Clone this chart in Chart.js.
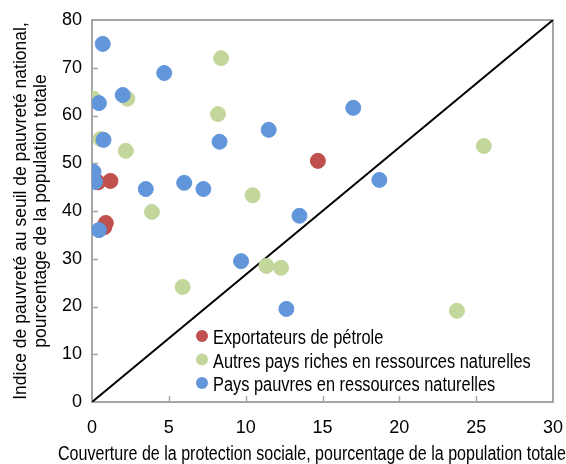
<!DOCTYPE html>
<html>
<head>
<meta charset="utf-8">
<script src="https://cdn.jsdelivr.net/npm/chart.js@4"></script>
<style>
  html, body { margin: 0; padding: 0; background: #fff; }
  #wrap { width: 566px; height: 464px; }
</style>
</head>
<body>
<div id="wrap"><canvas id="chart" width="566" height="464"></canvas></div>
<script>
// Exportateurs de pétrole
const oilX = [14.7, 1.2, 0.4, 0.9, 0.8];
const oilY = [50.5, 46.3, 46.0, 37.5, 36.6];

// Autres pays riches en ressources naturelles
const richX = [8.4, 0.1, 2.3, 8.2, 0.55, 2.2, 3.9, 10.45, 5.9, 11.35, 12.3, 25.5, 23.75];
const richY = [72.0, 63.5, 63.5, 60.3, 55.1, 52.6, 39.8, 43.3, 24.1, 28.5, 28.1, 53.6, 19.1];

// Pays pauvres en ressources naturelles
const poorX = [0.7, 4.7, 2.0, 0.45, 0.75, 8.3, 11.5, 17.0, 18.7, 0.1, 0.2, 3.5, 6.0, 7.25, 0.45, 13.5, 9.7, 12.65];
const poorY = [75.0, 68.9, 64.3, 62.6, 54.9, 54.5, 57.0, 61.6, 46.5, 48.2, 46.1, 44.6, 45.9, 44.6, 36.0, 39.0, 29.5, 19.5];

// ligne à 45 degrés
const diagX = [0, 30];
const diagY = [0, 80];

const xTicks = [0, 5, 10, 15, 20, 25, 30];
const yTicks = [0, 10, 20, 30, 40, 50, 60, 70, 80];

const seriesNames = [
  "Exportateurs de pétrole",
  "Autres pays riches en ressources naturelles",
  "Pays pauvres en ressources naturelles"
];
const colors = ["#C0504D", "#C3D69B", "#6296DB"];
const xTitle = "Couverture de la protection sociale, pourcentage de la population totale";
const yTitle = ["Indice de pauvreté au seuil de pauvreté national,", "pourcentage de la population totale"];

const FONT = "'Liberation Sans', Arial, sans-serif";
const AXIS = "#A6A6A6";
const SQUEEZE = 0.84; // le texte d'origine est un peu étroit

const pts = (xs, ys) => xs.map((x, i) => ({ x: x, y: ys[i] }));

// cadre, graduations intérieures, titre X et légende
const framePlugin = {
  id: "frame",
  beforeDatasetsDraw(chart) {
    const { ctx, chartArea: a, scales } = chart;
    ctx.save();
    ctx.strokeStyle = AXIS;
    ctx.lineWidth = 2;
    ctx.strokeRect(a.left, a.top, a.right - a.left, a.bottom - a.top);
    ctx.beginPath();
    xTicks.slice(1, -1).forEach(v => {
      const px = Math.round(scales.x.getPixelForValue(v)) + 0.5;
      ctx.moveTo(px, a.bottom);
      ctx.lineTo(px, a.bottom - 6);
    });
    yTicks.slice(1, -1).forEach(v => {
      const py = Math.round(scales.y.getPixelForValue(v)) + 0.5;
      ctx.moveTo(a.left, py);
      ctx.lineTo(a.left + 6, py);
    });
    ctx.lineWidth = 1.5;
    ctx.stroke();
    ctx.restore();
  },
  afterDraw(chart) {
    const { ctx } = chart;
    ctx.save();
    ctx.fillStyle = "#000";
    ctx.font = "19.5px " + FONT;
    ctx.textAlign = "center";
    ctx.textBaseline = "alphabetic";
    ctx.fillText(xTitle, 312, 460, 508);

    ctx.textAlign = "left";
    seriesNames.forEach((name, i) => {
      const base = 344 + i * 23.5;
      ctx.fillStyle = colors[i];
      ctx.beginPath();
      ctx.arc(202, base - 8, 6, 0, Math.PI * 2);
      ctx.fill();
      ctx.fillStyle = "#000";
      ctx.fillText(name, 213, base, ctx.measureText(name).width * SQUEEZE);
    });
    ctx.restore();
  }
};

new Chart(document.getElementById("chart"), {
  type: "scatter",
  data: {
    datasets: [
      {
        label: seriesNames[0],
        data: pts(oilX, oilY),
        backgroundColor: colors[0],
        borderColor: colors[0],
        pointRadius: 7.5,
        order: 3
      },
      {
        label: seriesNames[1],
        data: pts(richX, richY),
        backgroundColor: colors[1],
        borderColor: colors[1],
        pointRadius: 7.5,
        order: 2
      },
      {
        label: seriesNames[2],
        data: pts(poorX, poorY),
        backgroundColor: colors[2],
        borderColor: colors[2],
        pointRadius: 7.5,
        order: 1
      },
      {
        type: "line",
        label: "45°",
        data: pts(diagX, diagY),
        borderColor: "#000",
        borderWidth: 2,
        pointRadius: 0,
        fill: false,
        order: 4
      }
    ]
  },
  options: {
    responsive: false,
    animation: false,
    layout: { padding: { top: 20, right: 13, left: 0, bottom: 0 } },
    plugins: {
      legend: { display: false },
      tooltip: { enabled: false }
    },
    scales: {
      x: {
        type: "linear",
        min: 0,
        max: 30,
        afterBuildTicks: s => { s.ticks = xTicks.map(v => ({ value: v })); },
        afterFit: s => { s.height = 62; s.paddingLeft = 0; s.paddingRight = 0; },
        grid: { display: false, drawTicks: false },
        border: { display: false },
        ticks: { color: "#000", padding: 15, maxRotation: 0, font: { family: FONT, size: 18 } },
        title: { display: false }
      },
      y: {
        type: "linear",
        min: 0,
        max: 80,
        afterBuildTicks: s => { s.ticks = yTicks.map(v => ({ value: v })); },
        afterFit: s => { s.width = 92; s.paddingTop = 0; s.paddingBottom = 0; },
        grid: { display: false, drawTicks: false },
        border: { display: false },
        ticks: { color: "#000", padding: 10, font: { family: FONT, size: 18 } },
        title: {
          display: true,
          text: yTitle,
          color: "#000",
          font: { family: FONT, size: 17.5, lineHeight: 1.1 },
          padding: { top: 12, bottom: 0 }
        }
      }
    }
  },
  plugins: [framePlugin]
});
</script>
</body>
</html>
